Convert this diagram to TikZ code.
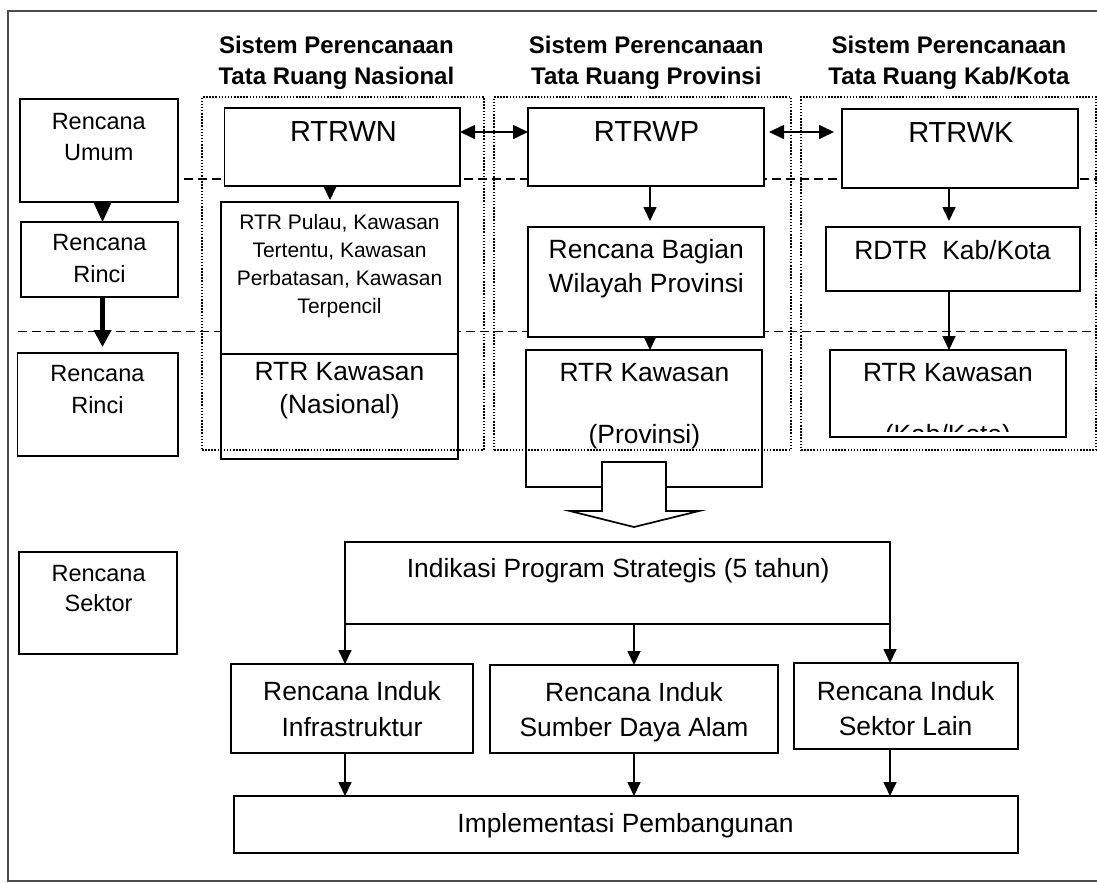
\documentclass[tikz,border=0pt]{standalone}
\usepackage{fontspec}
\setmainfont{Liberation Sans}
\usetikzlibrary{arrows.meta}
\begin{document}
\begin{tikzpicture}[x=1bp,y=-1bp,
  box/.style={draw, line width=1.7bp, fill=white, inner sep=0pt, outer sep=0pt, anchor=north west},
  dotbox/.style={draw, line width=1.6bp, dash pattern=on 1.5bp off 1.6bp, inner sep=0pt, outer sep=0pt, anchor=north west},
  dline/.style={line width=1.6bp, dash pattern=on 9bp off 5bp},
  frameline/.style={line width=1.5bp, draw=black!70},
  arr/.style={line width=1.7bp, -{Triangle[length=14bp,width=13bp]}},
  darr/.style={line width=1.7bp, {Triangle[length=15bp,width=14bp]}-{Triangle[length=15bp,width=14bp]}},
  tx/.style={anchor=base, inner sep=0pt, font=\fontsize{26.4bp}{30bp}\selectfont},
  tl/.style={anchor=base, inner sep=0pt, font=\fontsize{23.5bp}{28bp}\selectfont},
  tt/.style={anchor=base, inner sep=0pt, font=\fontsize{24bp}{28bp}\selectfont\bfseries},
  tb/.style={anchor=base, inner sep=0pt, font=\fontsize{29bp}{33bp}\selectfont},
  ts/.style={anchor=base, inner sep=0pt, font=\fontsize{21bp}{25bp}\selectfont}]
\useasboundingbox (0,0) rectangle (1097,883);

% outer frame
\draw[frameline] (1097,11) -- (8,11) -- (8,881) -- (1097,881);

% level separators
\draw[dline] (30,179) -- (1097,179);
\draw[dline] (17.5,331.5) -- (1097,331.5);

% left column boxes
\node[box, minimum width=158bp, minimum height=103bp] (umum) at (20,99) {};
\node[box, minimum width=157bp, minimum height=75bp] (rinci1) at (21,222) {};
\node[box, minimum width=160.5bp, minimum height=103bp] (rinci2) at (17.5,353) {};
\node[box, minimum width=158bp, minimum height=102bp] (sektor) at (19,552) {};

% national column
\node[box, minimum width=235.4bp, minimum height=78bp] (rtrwn) at (224.6,108) {};
\node[box, minimum width=237bp, minimum height=152bp] (pulau) at (221,202) {};
\node[box, minimum width=237bp, minimum height=105bp] (kawnas) at (221,354) {};

% province column
\node[box, minimum width=236bp, minimum height=78bp] (rtrwp) at (528,108) {};
\node[box, minimum width=236bp, minimum height=110bp] (bagian) at (528,227) {};
\node[box, minimum width=236bp, minimum height=137bp] (kawprov) at (526,350) {};

% kab/kota column
\node[box, minimum width=236bp, minimum height=79bp] (rtrwk) at (842,109) {};
\node[box, minimum width=254bp, minimum height=64bp] (rdtr) at (826,227) {};
\node[box, minimum width=236bp, minimum height=87bp] (kawkab) at (830,350) {};

% lower part
\node[box, minimum width=545bp, minimum height=82bp] (indikasi) at (345,542) {};
\node[box, minimum width=242bp, minimum height=89bp] (infra) at (231,664) {};
\node[box, minimum width=288bp, minimum height=88bp] (sda) at (490,665) {};
\node[box, minimum width=224bp, minimum height=86bp] (lain) at (794,663) {};
\node[box, minimum width=784bp, minimum height=57bp] (impl) at (234,796) {};

% dotted system frames
\node[dotbox, minimum width=282bp, minimum height=353bp] (sysnas) at (202,97) {};
\node[dotbox, minimum width=297bp, minimum height=353bp] (sysprov) at (494,97) {};
\node[dotbox, minimum width=295bp, minimum height=353bp] (syskab) at (801,97) {};

% helper coordinates for arrow positions
\coordinate (xa) at (102.5,0);
\coordinate (xb) at (330,0);
\coordinate (xc) at (650,0);
\coordinate (xd) at (949,0);
\coordinate (xe) at (345,0);
\coordinate (xf) at (634,0);
\coordinate (xg) at (890,0);
\coordinate (ya) at (0,132);

% arrows
\draw[line width=1.7bp, -{Triangle[length=19bp,width=17bp]}] (umum.south -| xa) -- (rinci1.north -| xa);
\draw[line width=5bp, -{Triangle[length=17bp,width=17bp]}, shorten >=6bp] (rinci1.south -| xa) -- (rinci2.north -| xa);
\draw[arr, shorten >=2bp] (rtrwn.south -| xb) -- (pulau.north -| xb);
\draw[arr, shorten >=6bp] (rtrwp.south -| xc) -- (bagian.north -| xc);
\draw[arr] (bagian.south -| xc) -- (kawprov.north -| xc);
\draw[arr, shorten >=6bp] (rtrwk.south -| xd) -- (rdtr.north -| xd);
\draw[arr] (rdtr.south -| xd) -- (kawkab.north -| xd);
\draw[darr] (rtrwn.east |- ya) -- (rtrwp.west |- ya);
\draw[darr, shorten <=5bp, shorten >=8bp] (rtrwp.east |- ya) -- (rtrwk.west |- ya);
\draw[arr] (indikasi.south -| xe) -- (infra.north -| xe);
\draw[arr] (indikasi.south -| xf) -- (sda.north -| xf);
\draw[arr] (indikasi.south -| xg) -- (lain.north -| xg);
\draw[arr] (infra.south -| xe) -- (impl.north -| xe);
\draw[arr] (sda.south -| xf) -- (impl.north -| xf);
\draw[arr] (lain.south -| xg) -- (impl.north -| xg);

% big hollow arrow
\draw[line width=1.7bp, fill=white, line join=miter] (602,462) -- (666,462) -- (666,511) -- (699,511) -- (634,527) -- (570,511) -- (602,511) -- cycle;

% titles
\node[tt] (ti1a) at (336.4,53.3) {Sistem Perencanaan};
\node[tt] (ti1b) at (336.4,84.5) {Tata Ruang Nasional};
\node[tt] (ti2a) at (646.3,53.3) {Sistem Perencanaan};
\node[tt] (ti2b) at (646.3,84.5) {Tata Ruang Provinsi};
\node[tt] (ti3a) at (948.9,53.3) {Sistem Perencanaan};
\node[tt] (ti3b) at (948.9,84.5) {Tata Ruang Kab/Kota};

% left texts
\node[tl] (umA) at (98.8,129.3) {Rencana};
\node[tl] (umB) at (98.8,160) {Umum};
\node[tl] (r1A) at (99.5,250.7) {Rencana};
\node[tl] (r1B) at (99.5,282.7) {Rinci};
\node[tl] (r2A) at (97.4,381.7) {Rencana};
\node[tl] (r2B) at (97.4,413.3) {Rinci};
\node[tl] (skA) at (98.6,581) {Rencana};
\node[tl] (skB) at (98.6,611.7) {Sektor};

% national texts
\node[tb] (tN) at (343.5,141.7) {RTRWN};
\node[ts] (puA) at (339.5,229.3) {RTR Pulau, Kawasan};
\node[ts] (puB) at (339.5,257.3) {Tertentu, Kawasan};
\node[ts] (puC) at (339.5,285.5) {Perbatasan, Kawasan};
\node[ts] (puD) at (339.5,313) {Terpencil};
\node[tx] (knA) at (339.5,380.7) {RTR Kawasan};
\node[tx] (knB) at (339.5,413.3) {(Nasional)};

% province texts
\node[tb] (tP) at (646.5,141.7) {RTRWP};
\node[tx] (bgA) at (646.3,258.3) {Rencana Bagian};
\node[tx] (bgB) at (646.3,292.7) {Wilayah Provinsi};
\node[tx] (kpA) at (644.4,381.7) {RTR Kawasan};
\node[tx] (kpB) at (644.4,443.3) {(Provinsi)};

% kab/kota texts
\node[tb] (tK) at (960.9,142.7) {RTRWK};
\node[tx] (rd) at (952.6,259) {RDTR\ \ Kab/Kota};
\node[tx] (kkA) at (947.9,381.7) {RTR Kawasan};
\begin{scope}
  \clip (831,351) rectangle (1065,431);
  \node[tx] (kkB) at (947.9,443.3) {(Kab/Kota)};
\end{scope}

% lower texts
\node[tx] (ind) at (618.2,577.7) {Indikasi Program Strategis (5 tahun)};
\node[tx] (inA) at (352,700) {Rencana Induk};
\node[tx] (inB) at (352,736) {Infrastruktur};
\node[tx] (sdA) at (634,701.7) {Rencana Induk};
\node[tx] (sdB) at (634,736.7) {Sumber Daya Alam};
\node[tx] (lnA) at (905.6,700) {Rencana Induk};
\node[tx] (lnB) at (905.6,735) {Sektor Lain};
\node[tx] (imp) at (625.5,832.7) {Implementasi Pembangunan};
\end{tikzpicture}
\end{document}
